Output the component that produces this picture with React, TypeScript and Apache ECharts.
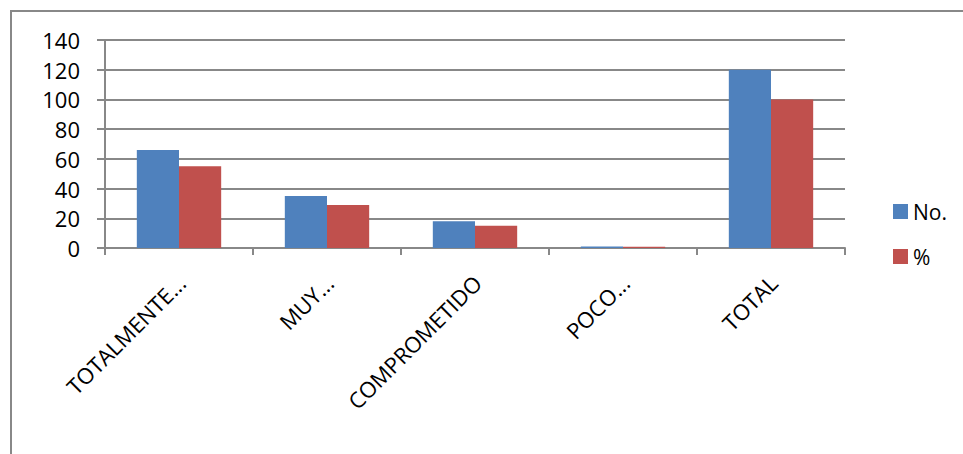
import React, { useEffect, useRef } from "react";
import * as echarts from "echarts";

const categories = ["TOTALMENTE...", "MUY...", "COMPROMETIDO", "POCO...", "TOTAL"];
const countValues = [66, 35, 18, 1, 120];
const percentValues = [55, 29, 15, 0.8, 100];
const seriesNames = ["No.", "%"];

const FONT = "'Open Sans', 'Noto Sans', sans-serif";

export default function App() {
  const ref = useRef<HTMLDivElement>(null);
  useEffect(() => {
    if (!ref.current) return;
    const chart = echarts.init(ref.current, undefined, { renderer: "svg" });
    chart.setOption({
      animation: false,
      backgroundColor: "#ffffff",
      textStyle: { fontFamily: FONT },
      graphic: [
        {
          type: "rect",
          shape: { x: 11, y: 11, width: 970, height: 470 },
          style: { fill: "none", stroke: "#888888", lineWidth: 2 },
          silent: true,
        },
      ],
      grid: { left: 105, right: 118, top: 40, bottom: 206 },
      legend: {
        orient: "vertical",
        left: 888,
        top: 196,
        itemWidth: 15,
        itemHeight: 15,
        itemGap: 24,
        icon: "rect",
        textStyle: { fontSize: 21, color: "#000", fontFamily: FONT },
        data: seriesNames,
      },
      xAxis: {
        type: "category",
        data: categories,
        axisLine: { lineStyle: { color: "#888888", width: 2 } },
        axisTick: { show: true, length: 7, lineStyle: { color: "#888888", width: 2 } },
        axisLabel: {
          rotate: 45,
          interval: 0,
          fontSize: 22,
          color: "#000",
          margin: 33,
          padding: [0, -3, 0, 0],
          fontFamily: FONT,
        },
      },
      yAxis: {
        type: "value",
        min: 0,
        max: 140,
        interval: 20,
        axisLine: { show: true, lineStyle: { color: "#888888", width: 2 } },
        axisTick: { show: true, length: 8, lineStyle: { color: "#888888", width: 2 } },
        axisLabel: { fontSize: 22, color: "#000", margin: 25, fontFamily: FONT },
        splitLine: { lineStyle: { color: "#888888", width: 2 } },
      },
      series: [
        {
          name: seriesNames[0],
          type: "bar",
          data: countValues,
          barGap: "0%",
          barCategoryGap: "43%",
          itemStyle: { color: "#4f81bd" },
        },
        {
          name: seriesNames[1],
          type: "bar",
          data: percentValues,
          itemStyle: { color: "#c0504d" },
        },
      ],
    });
    return () => chart.dispose();
  }, []);
  return (
    <div
      ref={ref}
      style={{ position: "fixed", left: 0, top: 0, width: 963, height: 454 }}
    />
  );
}
